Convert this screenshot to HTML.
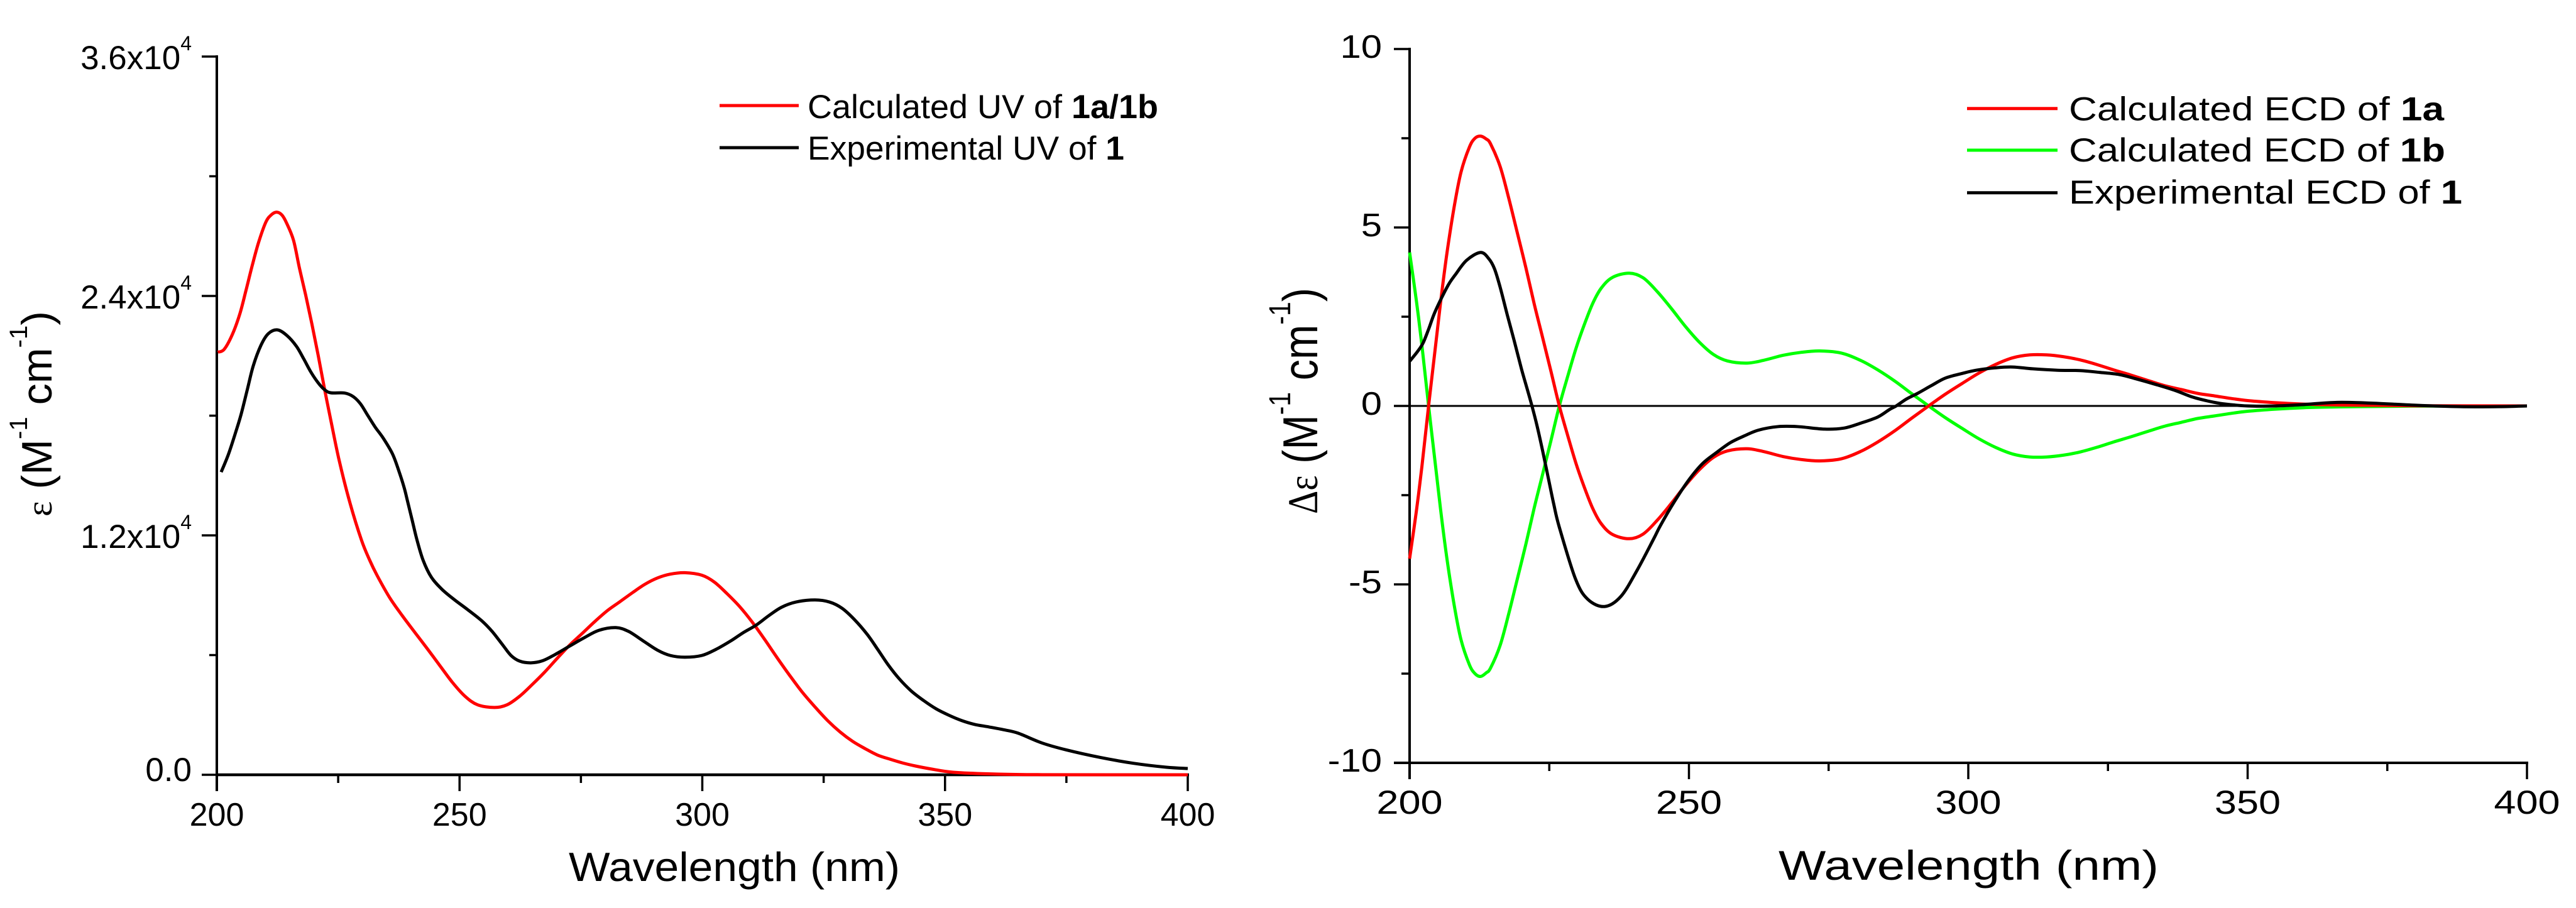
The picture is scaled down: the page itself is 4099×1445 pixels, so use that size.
<!DOCTYPE html>
<html lang="en">
<head>
<meta charset="utf-8">
<title>UV and ECD spectra</title>
<style>
html,body{margin:0;padding:0;background:#fff;}
svg{display:block;font-family:"Liberation Sans",sans-serif;fill:#000;}
</style>
</head>
<body>
<svg id="figure" xmlns="http://www.w3.org/2000/svg" width="4099" height="1445" viewBox="0 0 4099 1445">
  <rect x="0" y="0" width="4099" height="1445" fill="#fff"/>
  <g id="uv-chart"></g>
  <g id="ecd-chart"></g>

  <g>
    <line x1="1145" x2="1271" y1="168" y2="168" stroke="#f00" stroke-width="5"/>
    <text x="1285" y="188" font-size="53" textLength="558" lengthAdjust="spacingAndGlyphs">Calculated UV of <tspan font-weight="bold">1a/1b</tspan></text>
    <line x1="1145" x2="1271" y1="235" y2="235" stroke="#000" stroke-width="5"/>
    <text x="1285" y="254" font-size="53" textLength="504" lengthAdjust="spacingAndGlyphs">Experimental UV of <tspan font-weight="bold">1</tspan></text>
  </g>
  <g>
    <line x1="3130" x2="3274" y1="172.7" y2="172.7" stroke="#f00" stroke-width="5"/>
    <text x="3292" y="191.7" font-size="53" textLength="597" lengthAdjust="spacingAndGlyphs">Calculated ECD of <tspan font-weight="bold">1a</tspan></text>
    <line x1="3130" x2="3274" y1="239" y2="239" stroke="#0f0" stroke-width="5"/>
    <text x="3292" y="257" font-size="53" textLength="599" lengthAdjust="spacingAndGlyphs">Calculated ECD of <tspan font-weight="bold">1b</tspan></text>
    <line x1="3130" x2="3274" y1="306.7" y2="306.7" stroke="#000" stroke-width="5"/>
    <text x="3292" y="324" font-size="53" textLength="626" lengthAdjust="spacingAndGlyphs">Experimental ECD of <tspan font-weight="bold">1</tspan></text>
  </g>

  <text x="905" y="1402" font-size="65" textLength="527" lengthAdjust="spacingAndGlyphs">Wavelength (nm)</text>
  <text x="2830" y="1400" font-size="66" textLength="605" lengthAdjust="spacingAndGlyphs">Wavelength (nm)</text>

  <text transform="translate(82,822) rotate(-90)" font-size="68" textLength="327" lengthAdjust="spacingAndGlyphs" xml:space="preserve"><tspan font-family="Liberation Serif, serif" font-size="58">ε</tspan> (M<tspan font-size="40" dy="-39">-1</tspan><tspan dy="39"> cm</tspan><tspan font-size="40" dy="-39">-1</tspan><tspan dy="39">)</tspan></text>
  <text transform="translate(2096,818) rotate(-90)" font-size="78" textLength="360" lengthAdjust="spacingAndGlyphs" xml:space="preserve"><tspan font-family="Liberation Serif, serif" font-size="68">Δε</tspan> (M<tspan font-size="48" dy="-43">-1</tspan><tspan dy="43"> cm</tspan><tspan font-size="48" dy="-43">-1</tspan><tspan dy="43">)</tspan></text>
</svg>

<script>
// ---------- UV chart data ----------
const uvXMajorTicks = [200, 250, 300, 350, 400];
const uvXMinorTicks = [225, 275, 325, 375];
const uvYMajorTicks = [0, 12000, 24000, 36000];
const uvYMinorTicks = [6000, 18000, 30000];
const uvYTickMantissas = ['0.0', '1.2x10', '2.4x10', '3.6x10'];
const uvYTickExponents = ['', '4', '4', '4'];

const uvCalcNm = [200.2,201.5,203.2,204.75,206,207.3,208.6,210.1,211.2,212.3,213.4,214.4,215.8,217,218.3,219.6,220.9,222.2,223.5,225.2,227.4,229.8,231.5,233,235.6,238.2,240.8,243.4,246,248.5,251.1,253.7,257.2,259.8,262.4,264.9,267.5,270.1,272.7,275.3,277.9,280.5,283,285.7,288.2,290.8,293.4,296.4,299.9,302.5,305.1,307.7,310.3,312.8,315.4,318,320.6,323.2,325.8,328.4,331,333.6,336.1,338.7,341.3,343.9,347.3,351.7,360,370,400];
const uvCalcEps = [21185,21320,22070,23108,24270,25530,26680,27700,28060,28200,28060,27640,26790,25420,24050,22580,21000,19325,17750,15760,13650,11760,10750,10000,8880,7976,7135,6305,5454,4640,3941,3510,3373,3510,3941,4508,5139,5832,6504,7093,7690,8238,8670,9142,9552,9868,10057,10130,10003,9656,9079,8430,7650,6800,5873,4981,4139,3405,2721,2144,1671,1302,987,779,590,441,284,126,40,5,0];

const uvExpNm = [200.9,202.4,203.9,205,206.3,207.5,209.1,210.6,212.5,214.5,216.4,217.9,219.4,220.9,222.2,223.5,226.3,228.1,229.6,231.1,232.6,234.3,236.2,237.5,238.6,239.3,240.3,241.2,242.5,244.2,246.4,249,251.6,254.6,256.7,258.9,260.6,262.4,264.7,267.1,269.7,272.7,275.7,278.7,282.2,284.8,287.8,290.8,293.4,296.4,299.9,302.9,305.9,308.5,311.1,313.7,316.3,319.3,323.2,326.2,328.8,331.4,334,336.1,338.3,340.5,343,345.6,348.2,350.8,353.4,356,359,362,365,370,375,382,388.8,395.6,400];
const uvExpEps = [15173,16068,17182,18065,19325,20492,21532,22109,22299,22005,21478,20848,20177,19640,19303,19145,19136,18956,18590,18010,17434,16866,16078,15227,14385,13700,12700,11800,10750,9900,9290,8764,8291,7714,7188,6504,5980,5697,5612,5716,6031,6454,6873,7241,7377,7188,6715,6242,5980,5895,5980,6296,6715,7134,7503,7976,8395,8660,8764,8660,8345,7765,7030,6296,5507,4830,4210,3720,3301,2985,2721,2531,2400,2260,2090,1592,1245,867,577,378,315];

// ---------- ECD chart data ----------
const ecdXMajorTicks = [200, 250, 300, 350, 400];
const ecdXMinorTicks = [225, 275, 325, 375];
const ecdYMajorTicks = [-10, -5, 0, 5, 10];
const ecdYMinorTicks = [-7.5, -2.5, 2.5, 7.5];
const ecdYTickLabels = ['-10', '-5', '0', '5', '10'];

const ecd1aNm = [200,201.2,202.2,203.4,204.7,205.7,206.7,208,209.2,210.7,211.7,212.7,213.7,214.5,216.2,217.7,219.2,220.8,222.3,223.8,225.3,226.8,228.3,229.8,231.3,232.8,234.3,236.3,239.3,241.8,244.4,246.9,249.4,251.9,254.4,256.9,260.4,263.4,266.9,270,273.4,277.3,280.8,283.8,286.9,289.9,292.9,295.9,298.9,301.9,305,308,311,314,317,320,323,326,329,332,335.1,338.1,341.1,344.1,347,350,355,360,365,370,380,400];
const ecd1aVal = [-4.28,-2.96,-1.7,0,1.76,3.1,4.3,5.6,6.55,7.25,7.5,7.56,7.48,7.34,6.71,5.85,4.9,3.88,2.86,1.92,0.97,0,-0.83,-1.62,-2.29,-2.88,-3.3,-3.6,-3.72,-3.59,-3.19,-2.72,-2.22,-1.78,-1.44,-1.26,-1.2,-1.28,-1.42,-1.5,-1.54,-1.48,-1.27,-1.01,-0.69,-0.34,0,0.33,0.63,0.92,1.17,1.35,1.43,1.43,1.38,1.29,1.16,1.01,0.87,0.72,0.57,0.46,0.35,0.28,0.21,0.15,0.09,0.05,0.03,0.02,0.005,0];

const ecd1bNm = [200,201.2,202.2,203.4,204.7,205.7,206.7,208,209.2,210.7,211.7,212.7,213.7,214.5,216.2,217.7,219.2,220.8,222.3,223.8,225.3,226.8,228.3,229.8,231.3,232.8,234.3,236.3,239.3,241.8,244.4,246.9,249.4,251.9,254.4,256.9,260.4,263.4,266.9,270,273.4,277.3,280.8,283.8,286.9,289.9,292.9,295.9,298.9,301.9,305,308,311,314,317,320,323,326,329,332,335.1,338.1,341.1,344.1,347,350,355,360,365,370,380,400];
const ecd1bVal = [4.3,2.96,1.7,0,-1.76,-3.1,-4.3,-5.6,-6.55,-7.25,-7.5,-7.58,-7.48,-7.34,-6.71,-5.85,-4.9,-3.88,-2.86,-1.92,-0.97,0,0.83,1.62,2.29,2.88,3.3,3.6,3.72,3.59,3.19,2.72,2.22,1.78,1.44,1.26,1.2,1.28,1.42,1.5,1.54,1.48,1.27,1.01,0.69,0.34,0,-0.33,-0.63,-0.92,-1.17,-1.35,-1.43,-1.43,-1.38,-1.29,-1.16,-1.01,-0.87,-0.72,-0.57,-0.46,-0.35,-0.28,-0.21,-0.15,-0.09,-0.05,-0.03,-0.02,-0.005,0];

const ecdExpNm = [200,201.4,202.4,203.4,204.4,205.7,207,208.2,210.2,212.7,214.2,215.2,216.2,217.5,218.7,220,221,221.9,222.8,223.8,224.8,225.8,226.8,229.7,231.9,234.9,237.8,240.7,243.7,244.9,247.4,249.9,252.4,254.9,257.4,259.9,262.4,265.9,269.5,274.3,277.8,280.8,283.8,285.9,287.1,288.9,290.9,293.4,295.9,298.9,301.4,305,308,311.5,316,320,323.5,327,330,333.6,337.1,340.1,343.1,345.6,350,355,360,366,372,380,388,395,400];
const ecdExpVal = [1.25,1.52,1.76,2.15,2.58,3.02,3.41,3.68,4.08,4.3,4.12,3.84,3.33,2.54,1.84,1.05,0.5,0,-0.55,-1.25,-2,-2.75,-3.4,-4.85,-5.42,-5.62,-5.34,-4.61,-3.72,-3.35,-2.68,-2.09,-1.62,-1.31,-1.03,-0.84,-0.68,-0.58,-0.58,-0.65,-0.62,-0.48,-0.31,-0.1,0,0.19,0.35,0.57,0.78,0.91,1,1.07,1.09,1.04,1,0.99,0.94,0.88,0.76,0.6,0.43,0.25,0.13,0.06,0,0,0.04,0.1,0.08,0.02,-0.02,-0.02,0];

// ---------- axis functions ----------
const SVGNS = 'http://www.w3.org/2000/svg';
const uvX = v => 345 + (v - 200) * (1890 - 345) / 200;
const uvY = v => 1233 - v * (1233 - 90) / 36000;
const ecdX = v => 2243 + (v - 200) * (4021 - 2243) / 200;
const ecdY = v => 646 - v * (1214 - 78) / 20;

function makeLine(parent, x1, y1, x2, y2, w) {
  const el = document.createElementNS(SVGNS, 'line');
  el.setAttribute('x1', x1);
  el.setAttribute('y1', y1);
  el.setAttribute('x2', x2);
  el.setAttribute('y2', y2);
  el.setAttribute('stroke', '#000');
  el.setAttribute('stroke-width', w);
  parent.appendChild(el);
  return el;
}

function makeText(parent, x, y, str, size, anchor, sx) {
  const el = document.createElementNS(SVGNS, 'text');
  el.setAttribute('transform', 'translate(' + x + ',' + y + ') scale(' + sx + ',1)');
  el.setAttribute('font-size', size);
  el.setAttribute('text-anchor', anchor);
  el.textContent = str;
  parent.appendChild(el);
  return el;
}

function smoothPath(xs, ys) {
  let d = 'M' + xs[0].toFixed(2) + ' ' + ys[0].toFixed(2);
  for (let i = 0; i < xs.length - 1; i++) {
    const a = Math.max(i - 1, 0), b = Math.min(i + 2, xs.length - 1);
    const c1x = xs[i] + (xs[i + 1] - xs[a]) / 6, c1y = ys[i] + (ys[i + 1] - ys[a]) / 6;
    const c2x = xs[i + 1] - (xs[b] - xs[i]) / 6, c2y = ys[i + 1] - (ys[b] - ys[i]) / 6;
    d += 'C' + c1x.toFixed(2) + ' ' + c1y.toFixed(2) + ' ' + c2x.toFixed(2) + ' ' + c2y.toFixed(2) + ' ' + xs[i + 1].toFixed(2) + ' ' + ys[i + 1].toFixed(2);
  }
  return d;
}

function makeCurve(parent, nm, vals, xFn, yFn, color, w) {
  const el = document.createElementNS(SVGNS, 'path');
  el.setAttribute('d', smoothPath(nm.map(xFn), vals.map(yFn)));
  el.setAttribute('fill', 'none');
  el.setAttribute('stroke', color);
  el.setAttribute('stroke-width', w);
  el.setAttribute('stroke-linejoin', 'round');
  parent.appendChild(el);
  return el;
}

// ---------- UV chart ----------
const uvRoot = document.getElementById('uv-chart');

uvXMajorTicks.forEach(v => {
  const t = makeLine(uvRoot, uvX(v), uvY(0), uvX(v), uvY(0) + 26, 3.5);
  
  
  const l = makeText(uvRoot, uvX(v), 1314, String(v), 52, 'middle', 1);
  
  
});
uvXMinorTicks.forEach(v => {
  const t = makeLine(uvRoot, uvX(v), uvY(0), uvX(v), uvY(0) + 13, 3.5);
  
  
});
uvYMajorTicks.forEach((v, i) => {
  const t = makeLine(uvRoot, 321, uvY(v), 345, uvY(v), 3.5);
  
  
  const base = v === 0 ? uvY(v) + 10 : uvY(v) + 20;
  const l = makeText(uvRoot, 305, base, uvYTickMantissas[i], 53, 'end', 1);
  
  
  if (uvYTickExponents[i]) {
    const s = document.createElementNS(SVGNS, 'tspan');
    s.setAttribute('font-size', 32);
    s.setAttribute('dy', -30);
    s.textContent = uvYTickExponents[i];
    l.appendChild(s);
  }
});
uvYMinorTicks.forEach(v => {
  const t = makeLine(uvRoot, 333, uvY(v), 345, uvY(v), 3.5);
  
  
});
const uvYAxis = makeLine(uvRoot, uvX(200), uvY(36000) - 2, uvX(200), uvY(0) + 26, 4);


const uvXAxis = makeLine(uvRoot, uvX(200), uvY(0), uvX(400) + 2, uvY(0), 4.5);



const uvCalcCurve = makeCurve(uvRoot, uvCalcNm, uvCalcEps, uvX, uvY, '#f00', 5);


const uvExpCurve = makeCurve(uvRoot, uvExpNm, uvExpEps, uvX, uvY, '#000', 5);



// ---------- ECD chart ----------
const ecdRoot = document.getElementById('ecd-chart');

ecdXMajorTicks.forEach(v => {
  const t = makeLine(ecdRoot, ecdX(v), ecdY(-10), ecdX(v), ecdY(-10) + 26, 3.5);
  
  
  const l = makeText(ecdRoot, ecdX(v), 1295, String(v), 53, 'middle', 1.19);
  
  
});
ecdXMinorTicks.forEach(v => {
  const t = makeLine(ecdRoot, ecdX(v), ecdY(-10), ecdX(v), ecdY(-10) + 13, 3.5);
  
  
});
ecdYMajorTicks.forEach((v, i) => {
  const t = makeLine(ecdRoot, 2218, ecdY(v), 2243, ecdY(v), 3.5);
  
  
  const l = makeText(ecdRoot, 2199, ecdY(v) + 14, ecdYTickLabels[i], 52, 'end', 1.15);
  
  
});
ecdYMinorTicks.forEach(v => {
  const t = makeLine(ecdRoot, 2230, ecdY(v), 2243, ecdY(v), 3.5);
  
  
});
const ecdZero = makeLine(ecdRoot, 2218, ecdY(0), ecdX(400), ecdY(0), 3);


const ecdYAxis = makeLine(ecdRoot, ecdX(200), ecdY(10) - 2, ecdX(200), ecdY(-10) + 26, 4);


const ecdXAxis = makeLine(ecdRoot, 2218, ecdY(-10), ecdX(400) + 2, ecdY(-10), 4);



const ecdGreen = makeCurve(ecdRoot, ecd1bNm, ecd1bVal, ecdX, ecdY, '#0f0', 5);


const ecdRed = makeCurve(ecdRoot, ecd1aNm, ecd1aVal, ecdX, ecdY, '#f00', 5);


const ecdBlack = makeCurve(ecdRoot, ecdExpNm, ecdExpVal, ecdX, ecdY, '#000', 5);


</script>
</body>
</html>
